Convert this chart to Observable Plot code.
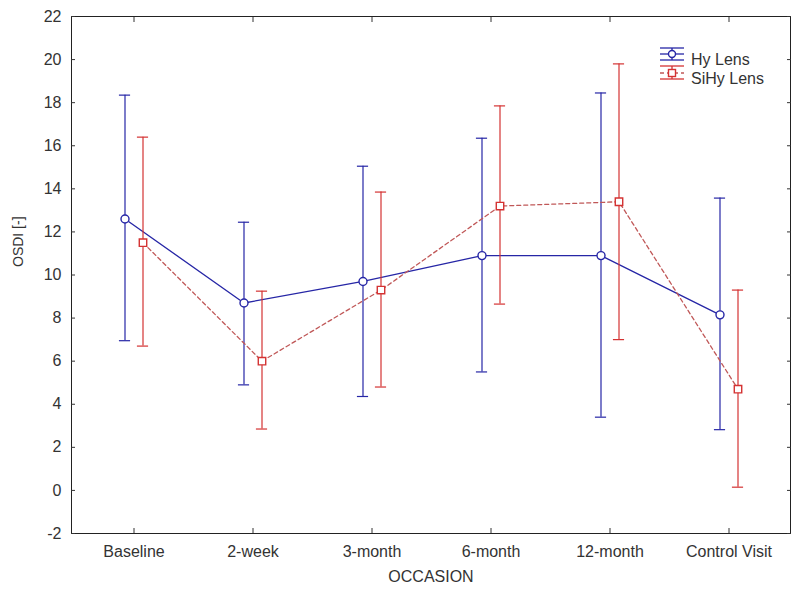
<!DOCTYPE html>
<html>
<head>
<meta charset="utf-8">
<script src="https://cdn.jsdelivr.net/npm/d3@7"></script>
<script src="https://cdn.jsdelivr.net/npm/@observablehq/plot@0.6"></script>
<style>
  body { margin: 0; background: #fff; }
  #wrap { position: relative; width: 792px; height: 595px; font-family: "Liberation Sans", Arial, sans-serif; color: #333; }
  #legend { position: absolute; left: 658px; top: 50px; font-size: 16px; }
  .lrow { position: absolute; left: 0; white-space: nowrap; height: 16px; line-height: 16px; }
  .lrow svg { position: absolute; left: 0; top: -6px; }
  .lrow span { position: absolute; left: 33px; top: 0; }
</style>
</head>
<body>
<div id="wrap"></div>
<script>
const categories = ["Baseline", "2-week", "3-month", "6-month", "12-month", "Control Visit"];
const hyMean  = [12.6, 8.7, 9.7, 10.9, 10.9, 8.15];
const hyLower = [6.95, 4.9, 4.36, 5.5, 3.4, 2.82];
const hyUpper = [18.35, 12.45, 15.05, 16.35, 18.45, 13.57];
const sihyMean  = [11.5, 6.0, 9.3, 13.2, 13.4, 4.7];
const sihyLower = [6.7, 2.85, 4.8, 8.65, 7.0, 0.15];
const sihyUpper = [16.4, 9.25, 13.85, 17.85, 19.8, 9.3];
const yTicks = [-2, 0, 2, 4, 6, 8, 10, 12, 14, 16, 18, 20, 22];
const seriesNames = ["Hy Lens", "SiHy Lens"];

const blue = "#2626a6";
const red = "#d43232";
const redLine = "#c05858";

const W = 792, H = 595;
const mL = 71, mR = 2, mT = 16, mB = 62;
const bw = (W - mL - mR) / categories.length;
const off = 9, cap = 6;

const hyRows = categories.map((c, i) => ({cat: c, mean: hyMean[i], lower: hyLower[i], upper: hyUpper[i]}));
const siRows = categories.map((c, i) => ({cat: c, mean: sihyMean[i], lower: sihyLower[i], upper: sihyUpper[i]}));

function seriesMarks(rows, dx, color, lineColor, dash, symbol, r) {
  const inL = bw / 2 + dx - cap, inR = bw / 2 - dx - cap;
  return [
    Plot.ruleX(rows, {x: "cat", y1: "lower", y2: "upper", dx, stroke: color, strokeWidth: 1.2}),
    Plot.tickY(rows, {x: "cat", y: "upper", insetLeft: inL, insetRight: inR, stroke: color, strokeWidth: 1.2}),
    Plot.tickY(rows, {x: "cat", y: "lower", insetLeft: inL, insetRight: inR, stroke: color, strokeWidth: 1.2}),
    Plot.line(rows, {x: "cat", y: "mean", dx, stroke: lineColor, strokeWidth: 1.3, strokeDasharray: dash}),
    Plot.dot(rows, {x: "cat", y: "mean", dx, symbol, r, stroke: color, fill: "white", strokeWidth: 1.4})
  ];
}

const chart = Plot.plot({
  width: W, height: H,
  marginLeft: mL, marginRight: mR, marginTop: mT, marginBottom: mB,
  style: {fontFamily: "Liberation Sans, Arial, sans-serif", fontSize: "16px", color: "#333", background: "white"},
  x: {type: "band", domain: categories, padding: 0, label: null},
  y: {domain: [-2, 22], label: null},
  marks: [
    Plot.frame({stroke: "#222"}),
    Plot.axisY({anchor: "left", ticks: yTicks, tickFormat: d => String(d), tickSize: -4, tickPadding: 14, label: null, fontSize: 16}),
    Plot.axisY({anchor: "right", ticks: yTicks, tickSize: -4, tickFormat: () => "", label: null}),
    Plot.axisX({anchor: "bottom", tickSize: -5, tickPadding: 17, label: null, fontSize: 16}),
    Plot.axisX({anchor: "top", tickSize: -5, tickFormat: () => "", label: null}),
    ...seriesMarks(hyRows, -off, blue, blue, null, "circle", 4),
    ...seriesMarks(siRows, off, red, redLine, "4,3", "square", 4.2),
    Plot.text(["OSDI [-]"], {frameAnchor: "left", dx: -53, dy: -8, rotate: -90, fontSize: 14, fill: "#333"}),
    Plot.text(["OCCASION"], {frameAnchor: "bottom", dy: 48, fontSize: 16, fill: "#333"})
  ]
});

const wrap = document.getElementById("wrap");
wrap.appendChild(chart);

const legend = document.createElement("div");
legend.id = "legend";
legend.innerHTML = `
  <div class="lrow" style="top:2px">
    <svg width="28" height="28" viewBox="0 0 28 28">
      <line x1="2" x2="26" y1="2" y2="2" stroke="${blue}" stroke-width="1.3"/>
      <line x1="2" x2="26" y1="8" y2="8" stroke="${blue}" stroke-width="1.3"/>
      <line x1="2" x2="26" y1="14" y2="14" stroke="${blue}" stroke-width="1.3"/>
      <line x1="14" x2="14" y1="2" y2="14" stroke="${blue}" stroke-width="1.3"/>
      <circle cx="14" cy="8" r="3.5" fill="white" stroke="${blue}" stroke-width="1.4"/>
    </svg>
    <span>${seriesNames[0]}</span>
  </div>
  <div class="lrow" style="top:21px">
    <svg width="28" height="28" viewBox="0 0 28 28">
      <line x1="2" x2="26" y1="1" y2="1" stroke="${red}" stroke-width="1.3"/>
      <line x1="2" x2="26" y1="8" y2="8" stroke="${redLine}" stroke-width="1.3" stroke-dasharray="4,3"/>
      <line x1="2" x2="26" y1="14" y2="14" stroke="${red}" stroke-width="1.3"/>
      <line x1="14" x2="14" y1="1" y2="14" stroke="${red}" stroke-width="1.3"/>
      <rect x="10.5" y="4.5" width="7" height="7" fill="white" stroke="${red}" stroke-width="1.4"/>
    </svg>
    <span>${seriesNames[1]}</span>
  </div>`;
wrap.appendChild(legend);
</script>
</body>
</html>
